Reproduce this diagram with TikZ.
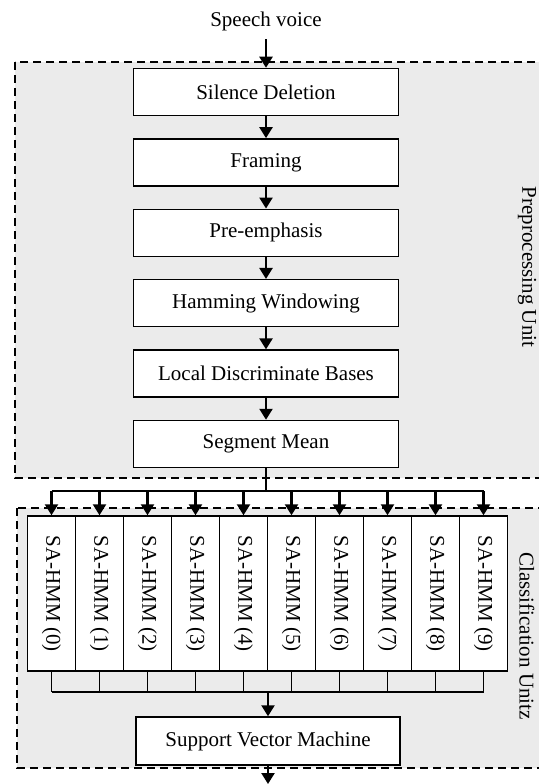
\documentclass[tikz,border=0pt]{standalone}
\usepackage{fontspec}
\setmainfont{Liberation Serif}
\usetikzlibrary{arrows.meta,positioning}

\begin{document}
\begin{tikzpicture}[x=1pt,y=-1pt,font=\fontsize{21}{25}\selectfont,
  block/.style={draw,fill=white,line width=1.5pt,minimum width=265pt,minimum height=47pt,inner sep=0pt},
  hmm/.style={draw,fill=white,line width=1.5pt,minimum width=48pt,minimum height=155pt,inner sep=0pt},
  unit/.style={draw,fill=black!8,line width=1.3pt,dash pattern=on 8pt off 5pt},
  flow/.style={line width=2.4pt,-{Triangle[length=11pt,width=13pt]}},
  wire/.style={line width=1.8pt}]
\useasboundingbox (0,0) rectangle (538,784);
% the two units
\draw[unit] (15,62) rectangle (548,478);
\draw[unit] (17,508) rectangle (548,768);
\node[rotate=-90] (prelab) at (527,267) {Preprocessing Unit};
\node[rotate=-90] (clslab) at (527,636) {Classification Unitz};
% preprocessing chain
\node (speech) at (266,21) {Speech voice};
\foreach \n/\t [count=\i from 0] in {sil/Silence Deletion, frm/Framing, pre/Pre-emphasis, ham/Hamming Windowing, ldb/Local Discriminate Bases, seg/Segment Mean}
  \node[block] (\n) at (266,92+70.4*\i) {\t};
\draw[flow, shorten <=5pt] (speech) -- (sil);
\foreach \a/\b in {sil/frm, frm/pre, pre/ham, ham/ldb, ldb/seg} \draw[flow] (\a) -- (\b);
% classifiers
\foreach \k in {0,...,9}
  \node[hmm] (h\k) at (51.5+48*\k,593.5) {\rotatebox{-90}{SA-HMM (\k)}};
\coordinate (split) at (266,491);
\coordinate (join) at (266,692);
\draw[flow, -] (seg.south) -- (split);
\draw[wire] (h0 |- split) -- (h9 |- split);
\foreach \k in {0,...,9} \draw[flow] (h\k |- split) -- (h\k.north);
\foreach \k in {0,...,9} \draw[wire] (h\k.south) -- (h\k |- join);
\draw[wire] (h0 |- join) -- (h9 |- join);
\node[block, minimum width=264pt, minimum height=48pt] (svm) at (268,741) {Support Vector Machine};
\draw[flow] (join) -- (join -| svm) -- (svm.north);
\coordinate (out) at (268,784);
\draw[flow] (svm.south) -- (out);
\end{tikzpicture}
\end{document}
